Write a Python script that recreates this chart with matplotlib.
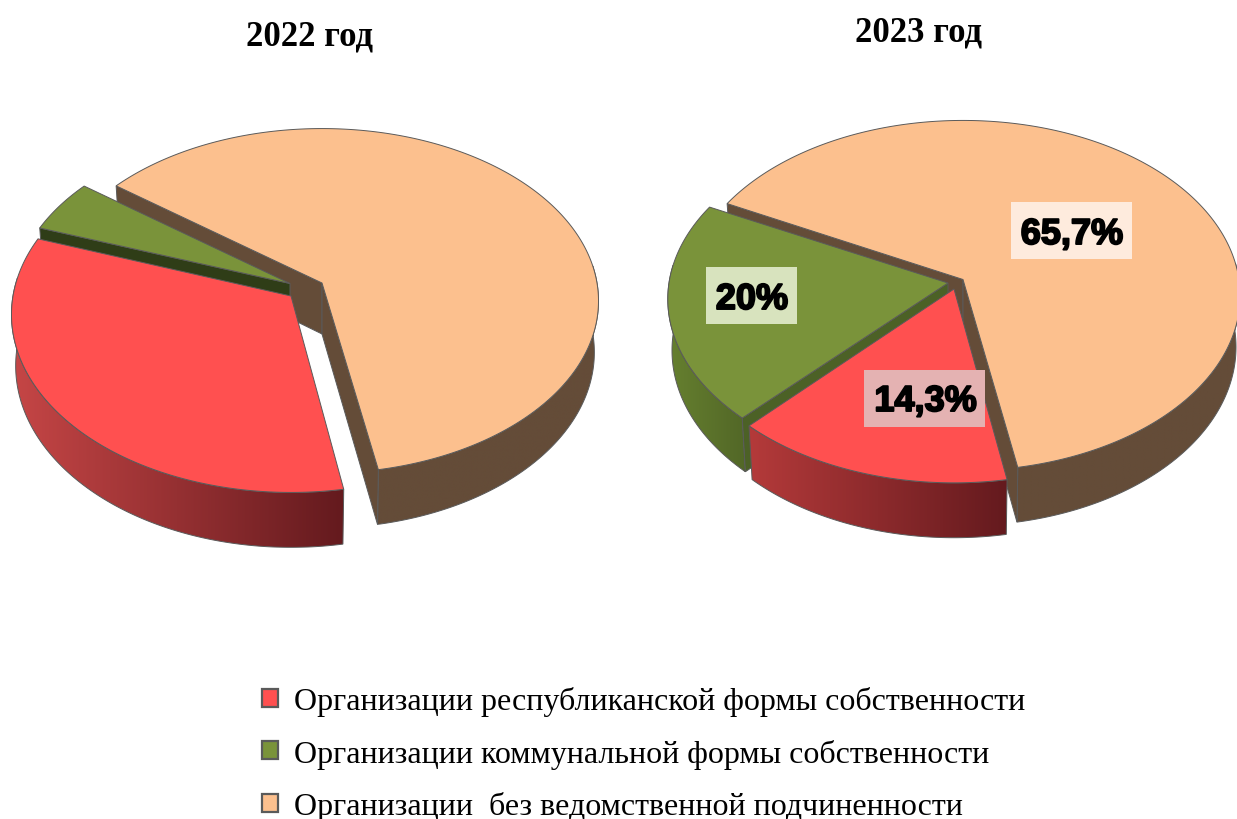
import numpy as np
import matplotlib
matplotlib.use("Agg")
import matplotlib.pyplot as plt
from matplotlib.patches import Polygon, Patch, Rectangle
import matplotlib.patheffects as pe
from matplotlib.colors import to_rgb

# ---- data ----
categories = ["Организации республиканской формы собственности",
              "Организации коммунальной формы собственности",
              "Организации  без ведомственной подчиненности"]
years = ["2022 год", "2023 год"]
shares_2022 = [33.4, 4.9, 61.7]
shares_2023 = [14.3, 20.0, 65.7]
labels_2023 = ["14,3%", "20%", "65,7%"]

# ---- style ----
TOP = ["#FF5050", "#7A933A", "#FCC08E"]
BOX = ["#E4B2B2", "#D8E3BE", "#FEEBDD"]
EDGE = "#5A5A5A"
SERIF = ["Liberation Serif", "DejaVu Serif"]
FACES = [[], [0], [0, -1]]   # which cut faces of each slice can be seen

charts = [
    dict(shares=shares_2022, start=169.4, red_shift=0.8, nudge=[0, 0, 0],
         apex=[(291, 297), (290, 284.5), (322, 284)], A=[278, 275, 275], B=[176, 171, 170.5], p=0.104,
         cut=["#A03232", "#2F3D17", "#644C38"],
         wall=[("#C64646", "#641A1E"), ("#5A702B", "#4F6326"), ("#644C38", "#644C38")],
         title_xy=(309, 37)),
    dict(shares=shares_2023, start=169.6, red_shift=0.4, nudge=[2.4, 4.0, 0],
         apex=[(954, 290), (948, 284), (963, 280.5)], A=[278, 279, 276], B=[176, 173.7, 173.7], p=0.092,
         cut=["#A03232", "#4C6126", "#644C38"],
         wall=[("#B43A3A", "#641A1E"), ("#66802F", "#526727"), ("#644C38", "#644C38")],
         title_xy=(918.5, 33)),
]
DEPTH = 51
XS, YS = 0.985, 1.02
label_base = [(925.5, 412), (752, 310), (1072, 245)]
label_box = [(864, 371, 121, 57), (706, 268, 91, 57), (1011, 203, 121, 57)]

fig = plt.figure(figsize=(12.37, 8.2), dpi=100, facecolor="white")
ax = fig.add_axes([0, 0, 1, 1])


def project(theta, apex, A, B, p, bottom=False):
    t = np.radians(theta)
    d = 1 + p * np.cos(t)
    x, y = A * np.sin(t) / d, -B * np.cos(t) / d
    if bottom:
        return apex[0] + XS * x, apex[1] + DEPTH + YS * y
    return apex[0] + x, apex[1] + y


for ch in charts:
    bounds = ch["start"] + np.concatenate([[0], np.cumsum(ch["shares"])]) * 3.6
    z = 1
    # peach first, then green, then red (back to front)
    for i in [2, 1, 0]:
        t0 = bounds[i] + (ch["nudge"][i - 1] if i > 0 else ch["red_shift"])
        t1 = bounds[i + 1] + ch["nudge"][i]
        apex, A, B, p = ch["apex"][i], ch["A"][i], ch["B"][i], ch["p"]
        arc = np.linspace(t0, t1, 400)
        tx, ty = project(arc, apex, A, B, p)
        bx, by = project(arc, apex, A, B, p, bottom=True)
        ab = (apex[0], apex[1] + DEPTH)
        # outer wall: only its front part, with a horizontal gradient
        m = (np.mod(arc, 360) > 84) & (np.mod(arc, 360) < 276)
        if m.sum() > 1:
            wx = np.r_[tx[m], bx[m][::-1]]
            wy = np.r_[ty[m], by[m][::-1]]
            outline = np.column_stack([wx, wy])
            c0, c1 = map(np.array, map(to_rgb, ch["wall"][i]))
            grad = c0 + (c1 - c0) * np.linspace(0, 1, 256)[:, None]
            im = ax.imshow(grad[None, :, :], extent=(wx.min(), wx.max(), wy.max(), wy.min()),
                           aspect="auto", interpolation="bilinear", zorder=z)
            clip = Polygon(outline, closed=True, transform=ax.transData)
            im.set_clip_path(clip)
            z += 1
            ax.add_patch(Polygon(outline, closed=True, fc="none", ec=EDGE, lw=0.7, zorder=z))
            z += 1
        # cut faces
        for k in FACES[i]:
            ax.add_patch(Polygon([apex, (tx[k], ty[k]), (bx[k], by[k]), ab],
                                 closed=True, fc=ch["cut"][i], ec=EDGE, lw=0.7, zorder=z))
            z += 1
        # top face
        ax.add_patch(Polygon(np.column_stack([np.r_[apex[0], tx], np.r_[apex[1], ty]]),
                             closed=True, fc=TOP[i], ec=EDGE, lw=0.7, zorder=z))
        z += 1

ax.set_xlim(0, 1237)
ax.set_ylim(820, 0)
ax.axis("off")

for year, ch in zip(years, charts):
    ax.text(*ch["title_xy"], year, family=SERIF, fontweight="bold", fontsize=25,
            ha="center", va="center", color="black", zorder=50)

for lab, xy, rect, box in zip(labels_2023, label_base, label_box, BOX):
    ax.add_patch(Rectangle(rect[:2], rect[2], rect[3], fc=box, ec="none", zorder=55))
    ax.text(*xy, lab, family=["Liberation Sans", "DejaVu Sans"], fontweight="bold", fontsize=26,
            ha="center", va="baseline", color="black", zorder=60,
            path_effects=[pe.withStroke(linewidth=1.4, foreground="black")])

handles = [Patch(facecolor=c, edgecolor=EDGE, linewidth=1.6) for c in TOP]
fig.legend(handles, categories, loc="lower left", bbox_to_anchor=(262 / 1237, -2.0 / 820),
           frameon=False, prop={"family": SERIF, "size": 23},
           handlelength=0.5, handleheight=0.5, handletextpad=0.5, labelspacing=0.70,
           borderpad=0.0, borderaxespad=0.0)

fig.savefig("out.png", dpi=100)
